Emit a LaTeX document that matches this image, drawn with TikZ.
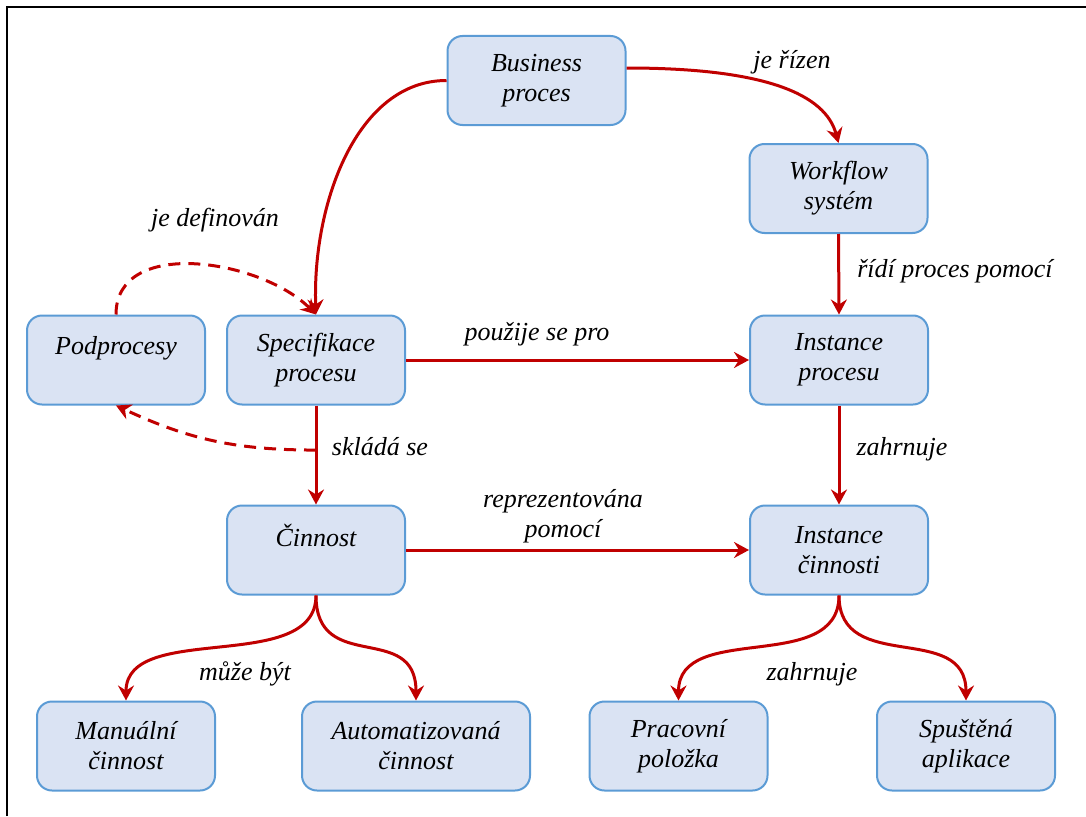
\documentclass[tikz,border=0pt]{standalone}
\usepackage{fontspec}
\setmainfont{Liberation Serif}
\newfontfamily\tnr{Liberation Serif}
\usetikzlibrary{arrows.meta,calc}
\definecolor{boxfill}{HTML}{DAE3F3}
\definecolor{boxline}{HTML}{5B9BD5}
\definecolor{arr}{HTML}{C00000}
\begin{document}
\begin{tikzpicture}[x=1pt,y=1pt,
  box/.style={draw=boxline, fill=boxfill, line width=2pt, rounded corners=15pt,
    minimum width=178pt, minimum height=89pt, align=center, inner sep=0pt,
    font=\tnr\fontsize{26}{30}\selectfont\itshape},
  conn/.style={draw=arr, line width=3pt, -{Stealth[length=15pt,width=16pt,inset=5pt]}},
  dconn/.style={conn, dash pattern=on 12pt off 8pt},
  branch/.style={conn, out=-90, in=90, distance=80pt},
  lbl/.style={font=\tnr\fontsize{26}{30}\selectfont\itshape, align=center, inner sep=0pt}]
\useasboundingbox (0,0) rectangle (1086,-816);
\draw[line width=2.5pt] (7,-816) -- (7,-7) -- (1086,-7);

% nodes
\node[box] (bp) at (536.5,-80.5) {Business\\proces};
\node[box] (ws) at (838.5,-188.5) {Workflow\\systém};
\node[box] (pp) at (116,-360) {Podprocesy\\~};
\node[box] (sp) at (316,-360) {Specifikace\\procesu};
\node[box] (ip) at (839,-360) {Instance\\procesu};
\node[box] (cin) at (316,-550) {Činnost\\~};
\node[box] (ic) at (839,-550) {Instance\\činnosti};
\node[box] (mc) at (126,-746) {Manuální\\činnost};
\node[box, minimum width=228pt] (ac) at (416,-746) {Automatizovaná\\činnost};
\node[box] (pl) at (678.5,-746) {Pracovní\\položka};
\node[box] (sa) at (966,-746) {Spuštěná\\aplikace};

% connectors
\draw[conn] (bp.west) to[out=180,in=92,out distance=90pt,in distance=110pt] (sp.north);
\draw[conn] ([yshift=12.5pt]bp.east) to[out=0,in=105,out distance=140pt,in distance=50pt] (ws.north);
\draw[conn] (ws.south) -- (ip.north);
\draw[conn] (sp.east) -- (ip.west);
\coordinate (j) at ($(sp.south)!0.45!(cin.north)$);
\draw[conn] (sp.south) -- (cin.north);
\draw[dconn] (pp.north) to[out=90,in=135] (sp.north);
\draw[dconn] (j) to[out=180,in=-25] (pp.south);
\draw[conn] (ip.south) -- (ic.north);
\draw[conn] (cin.east) -- (ic.west);
\draw[branch] (cin.south) to (mc.north);
\draw[branch] (cin.south) to (ac.north);
\draw[branch] (ic.south) to (pl.north);
\draw[branch] (ic.south) to (sa.north);

% labels
\node[lbl, anchor=base] (l1) at (215,-226) {je definován};
\node[lbl, anchor=base] (l2) at (792,-68) {je řízen};
\node[lbl, anchor=base] (l3) at (955,-277) {řídí proces pomocí};
\node[lbl, anchor=base] (l4) at (537,-340) {použije se pro};
\node[lbl, anchor=base] (l5) at (380,-455) {skládá se};
\node[lbl, anchor=base] (l6) at (902,-455) {zahrnuje};
\node[lbl] (l7) at (563,-516) {reprezentována\\pomocí};
\node[lbl, anchor=base] (l8) at (245,-680) {může být};
\node[lbl, anchor=base] (l9) at (812,-680) {zahrnuje};
\end{tikzpicture}
\end{document}
